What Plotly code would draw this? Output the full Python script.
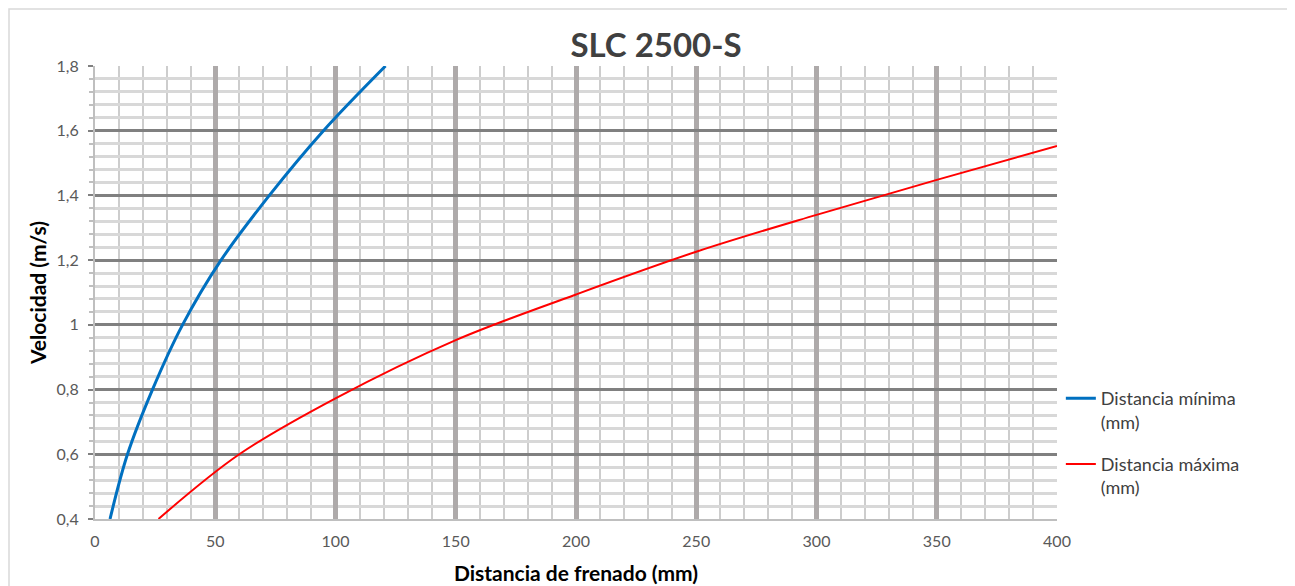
import plotly.graph_objects as go

# Data
dist_min_x = [6.25, 13.5, 23.9, 36.4, 52.4, 72.5, 95.0, 120.8]
dist_min_y = [0.4, 0.6, 0.8, 1.0, 1.2, 1.4, 1.6, 1.8]

dist_max_x = [26.4, 60, 100, 150, 200, 250, 300, 350, 400]
dist_max_y = [0.4, 0.6, 0.773, 0.953, 1.094, 1.226, 1.34, 1.448, 1.553]

x_ticks = [0, 50, 100, 150, 200, 250, 300, 350, 400]
y_ticks = [0.4, 0.6, 0.8, 1.0, 1.2, 1.4, 1.6, 1.8]
y_tick_text = ["0,4", "0,6", "0,8", "1", "1,2", "1,4", "1,6", "1,8"]

name_min = "Distancia mínima<br>(mm)"
name_max = "Distancia máxima<br>(mm)"
title = "SLC 2500-S"
x_title = "Distancia de frenado (mm)"
y_title = "Velocidad (m/s)"

FONT = "Lato, 'Open Sans', sans-serif"

# page body has an 8px margin; figure is sized to fit the window
W, H = 1287, 578
PL, PR, PT, PB = 95 - 8, 1057 - 8, 66 - 8, 519 - 8   # plot area in figure pixels

fig = go.Figure()
fig.add_trace(go.Scatter(x=dist_min_x, y=dist_min_y, mode="lines", name=name_min,
                         legendgroup="min",
                         line=dict(color="#0070C0", width=3, shape="spline", smoothing=1.0)))
fig.add_trace(go.Scatter(x=dist_max_x, y=dist_max_y, mode="lines", name=name_max,
                         legendgroup="max",
                         line=dict(color="#FF0000", width=2, shape="spline", smoothing=1.0)))

pw = PR - PL
ph = PB - PT


def px_to_paper_x(fx):
    return (fx - PL) / pw


def px_to_paper_y(fy):
    return (PB - fy) / ph


fig.update_layout(
    width=W, height=H,
    margin=dict(l=PL, r=W - PR, t=PT, b=H - PB, pad=0, autoexpand=False),
    paper_bgcolor="white", plot_bgcolor="white",
    font=dict(family=FONT, color="#595959", size=16),
    title=dict(text=title, x=648 / W, xref="container", xanchor="center",
               y=1 - 37 / H, yref="container", yanchor="middle",
               font=dict(family=FONT, size=33, color="#404040", weight="bold")),
    showlegend=True,
    legend=dict(x=1.004, y=px_to_paper_y(380 - 8), xanchor="left", yanchor="top",
                font=dict(family=FONT, size=18, color="#404040"),
                valign="top", tracegroupgap=16, bgcolor="rgba(0,0,0,0)"),
    xaxis=dict(range=[0, 400], tickvals=x_ticks, showgrid=True, automargin=False,
               gridcolor="#aeaaaa", gridwidth=5,
               minor=dict(dtick=10, showgrid=True, gridcolor="#cdcdcd", gridwidth=1.5),
               zeroline=False, showline=True, linecolor="#bfbfbf", linewidth=2,
               ticks="", ticklabelstandoff=7,
               tickfont=dict(family=FONT, size=16, color="#595959"),
               title=dict(text=x_title, standoff=17,
                          font=dict(family=FONT, size=21, color="#000000", weight="bold"))),
    yaxis=dict(range=[0.4, 1.8], tickvals=y_ticks, ticktext=y_tick_text, showgrid=True,
               automargin=False,
               gridcolor="#808080", gridwidth=2.5,
               minor=dict(dtick=0.04, tick0=0.4, showgrid=True, gridcolor="#d8d8d8", gridwidth=2.5,
                          ticks="outside", ticklen=4, tickcolor="#bfbfbf"),
               zeroline=False, showline=True, linecolor="#bfbfbf", linewidth=2,
               ticks="outside", ticklen=5, tickcolor="#808080", tickwidth=1.5,
               ticklabelstandoff=6,
               tickfont=dict(family=FONT, size=16, color="#595959"),
               title=dict(text=y_title, standoff=4,
                          font=dict(family=FONT, size=21, color="#000000", weight="bold"))),
    shapes=[dict(type="rect", xref="paper", yref="paper",
                 x0=px_to_paper_x(1), x1=px_to_paper_x(1282),
                 y0=px_to_paper_y(640), y1=px_to_paper_y(1),
                 line=dict(color="#d9d9d9", width=1.5), fillcolor="rgba(0,0,0,0)",
                 layer="below")],
)

fig.write_html("out.html")
